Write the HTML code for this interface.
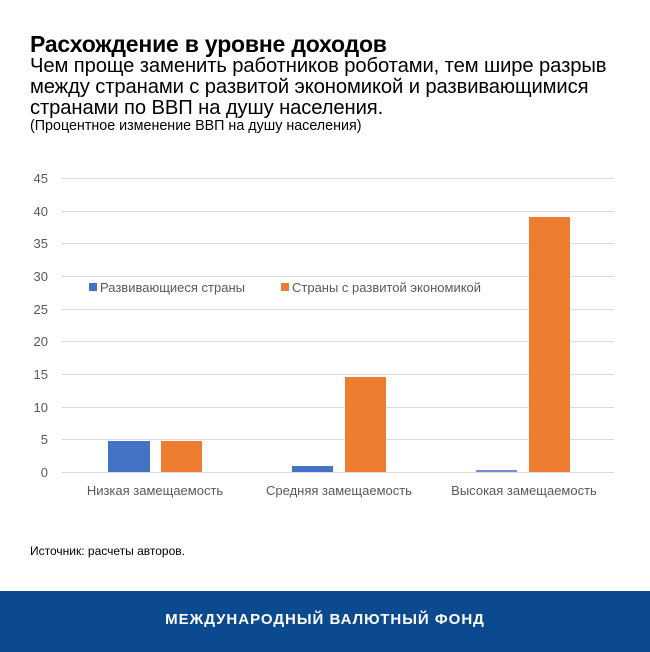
<!DOCTYPE html>
<html><head><meta charset="utf-8"><style>
body{margin:0;width:650px;height:652px;background:#fff;position:relative;font-family:"Liberation Sans",sans-serif;overflow:hidden}
.t{position:absolute;left:30px;white-space:nowrap;color:#000}
</style></head><body>
<div class="t" style="top:31px;font-size:23px;font-weight:bold;letter-spacing:-0.2px">Расхождение в уровне доходов</div>
<div class="t" style="top:56px;font-size:20.2px;line-height:21px;letter-spacing:-0.1px">Чем проще заменить работников роботами, тем шире разрыв<br>между странами с развитой экономикой и развивающимися<br>странами по ВВП на душу населения.</div>
<div class="t" style="top:118px;font-size:14.3px;letter-spacing:0px">(Процентное изменение ВВП на душу населения)</div>
<svg style="position:absolute;left:0;top:0" width="650" height="652" font-family="Liberation Sans, sans-serif">
<g stroke="#d9d9d9" stroke-width="1">
<line x1="62" x2="614" y1="178.5" y2="178.5"/><line x1="62" x2="614" y1="211.5" y2="211.5"/>
<line x1="62" x2="614" y1="243.5" y2="243.5"/><line x1="62" x2="614" y1="276.5" y2="276.5"/>
<line x1="62" x2="614" y1="309.5" y2="309.5"/><line x1="62" x2="614" y1="341.5" y2="341.5"/>
<line x1="62" x2="614" y1="374.5" y2="374.5"/><line x1="62" x2="614" y1="407.5" y2="407.5"/>
<line x1="62" x2="614" y1="439.5" y2="439.5"/><line x1="62" x2="614" y1="472.5" y2="472.5"/>
</g>
<g font-size="13" fill="#595959" text-anchor="end">
<text x="48" y="183">45</text><text x="48" y="216">40</text><text x="48" y="248">35</text>
<text x="48" y="281">30</text><text x="48" y="314">25</text><text x="48" y="346">20</text>
<text x="48" y="379">15</text><text x="48" y="412">10</text><text x="48" y="444">5</text><text x="48" y="477">0</text>
</g>
<g fill="#4472c4"><rect x="108" y="441" width="42" height="31"/><rect x="292" y="466" width="41" height="6"/><rect x="476" y="470" width="41" height="2" fill="#6f90d0"/></g>
<g fill="#ed7d31"><rect x="161" y="441" width="41" height="31"/><rect x="345" y="377" width="41" height="95"/><rect x="529" y="217" width="41" height="255"/></g>
<rect x="89" y="283" width="8" height="8" fill="#4472c4"/>
<rect x="281" y="283" width="8" height="8" fill="#ed7d31"/>
<g font-size="13" fill="#595959">
<text x="100" y="292">Развивающиеся страны</text>
<text x="292" y="292">Страны с развитой экономикой</text>
</g>
<g font-size="13" fill="#595959" text-anchor="middle">
<text x="155" y="495">Низкая замещаемость</text>
<text x="339" y="495">Средняя замещаемость</text>
<text x="524" y="495">Высокая замещаемость</text>
</g>
<text x="30" y="555" font-size="12" fill="#000">Источник: расчеты авторов.</text>
<rect x="0" y="591" width="650" height="61" fill="#0b4a8e"/>
<text x="325" y="624" font-size="15" font-weight="bold" fill="#fff" text-anchor="middle" letter-spacing="1">МЕЖДУНАРОДНЫЙ ВАЛЮТНЫЙ ФОНД</text>
</svg>
</body></html>
